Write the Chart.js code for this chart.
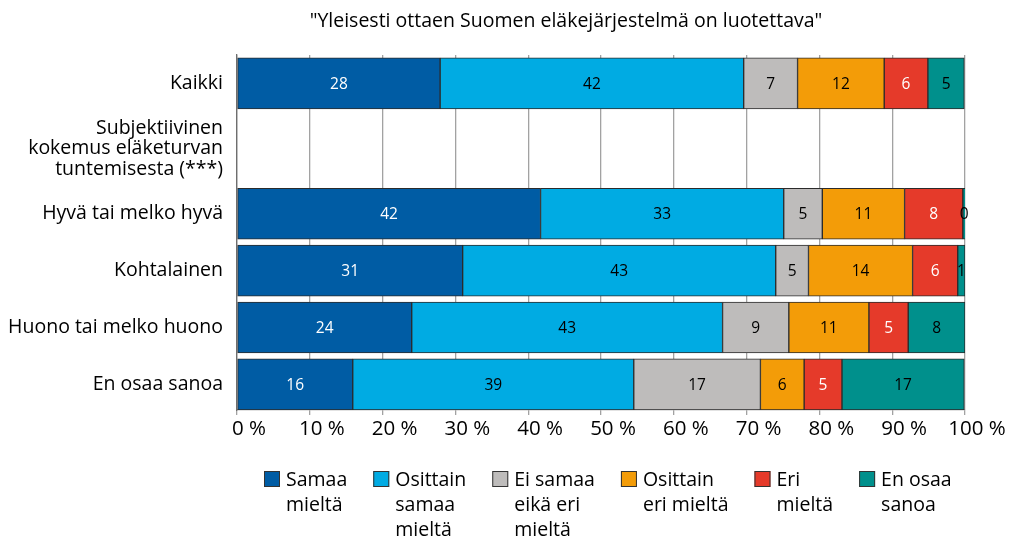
<!DOCTYPE html>
<html>
<head>
<meta charset="utf-8">
<script src="https://cdn.jsdelivr.net/npm/chart.js@4.4.1/dist/chart.umd.min.js"></script>
<style>
  html, body { margin: 0; padding: 0; background: #fff; }
  #wrap { width: 1012px; height: 537px; }
</style>
</head>
<body>
<div id="wrap"><canvas id="chart" width="1012" height="537"></canvas></div>
<script>
// rows of the chart (the second one is only a heading, it has no bar)
const rowLabels = [
    'Kaikki',
    ['Subjektiivinen', 'kokemus eläketurvan', 'tuntemisesta (***)'],
    'Hyvä tai melko hyvä',
    'Kohtalainen',
    'Huono tai melko huono',
    'En osaa sanoa'
];
const seriesNames = [
    ['Samaa', 'mieltä'],
    ['Osittain', 'samaa', 'mieltä'],
    ['Ei samaa', 'eikä eri', 'mieltä'],
    ['Osittain', 'eri mieltä'],
    ['Eri', 'mieltä'],
    ['En osaa', 'sanoa']
];
// shares in %, null = heading row
const samaa          = [27.9, null, 41.7, 31.0, 24.0, 15.9];
const osittainSamaa  = [41.7, null, 33.4, 43.0, 42.7, 38.6];
const eiSamaaEikaEri = [7.4,  null, 5.3,  4.5,  9.1,  17.4];
const osittainEri    = [11.9, null, 11.3, 14.3, 11.0, 6.0];
const eri            = [6.0,  null, 8.0,  6.2,  5.4,  5.2];
const enOsaa         = [5.0,  null, 0.4,  1.0,  7.8,  16.8];

const title = '"Yleisesti ottaen Suomen eläkejärjestelmä on luotettava"';
const FONT = '"Open Sans", "Noto Sans", sans-serif';

// vertical placement of the rows on the index axis (heading row takes more room)
const rowPos = [0, 1.15, 2.29, 3.29, 4.29, 5.29];

const seriesValues = [samaa, osittainSamaa, eiSamaaEikaEri, osittainEri, eri, enOsaa];
const colors = ['#005ca4', '#00abe3', '#bebcbb', '#f39c08', '#e53a2a', '#00908c'];
const textColors = ['#fff', '#000', '#000', '#000', '#fff', '#000'];

const datasets = seriesValues.map((vals, s) => ({
    label: seriesNames[s].join(' '),
    data: vals.map((v, i) => ({ x: v, y: rowPos[i] })).filter(p => p.x !== null),
    backgroundColor: colors[s],
    borderColor: '#2b2b2b',
    borderWidth: 1,
    borderSkipped: false,
    barThickness: 51,
    labelColor: textColors[s]
}));

// numbers inside the bars
const valueLabels = {
    id: 'valueLabels',
    afterDatasetsDraw(chart) {
        const ctx = chart.ctx;
        ctx.save();
        ctx.font = '15.5px ' + FONT;
        ctx.textAlign = 'center';
        ctx.textBaseline = 'middle';
        chart.data.datasets.forEach((ds, di) => {
            chart.getDatasetMeta(di).data.forEach((bar, i) => {
                const p = bar.getCenterPoint();
                ctx.fillStyle = ds.labelColor;
                ctx.fillText(Math.round(ds.data[i].x), p.x, p.y + 1);
            });
        });
        ctx.restore();
    }
};

// title + legend with wrapped names
const extras = {
    id: 'extras',
    afterDraw(chart) {
        const ctx = chart.ctx;
        ctx.save();
        ctx.fillStyle = '#000';
        ctx.font = '19.5px ' + FONT;
        ctx.textAlign = 'center';
        ctx.textBaseline = 'middle';
        ctx.fillText(title, 566, 21);

        ctx.textAlign = 'left';
        ctx.textBaseline = 'alphabetic';
        let x = 264;
        chart.data.datasets.forEach((ds, s) => {
            ctx.fillStyle = ds.backgroundColor;
            ctx.fillRect(x, 471, 16, 16);
            ctx.strokeStyle = '#333';
            ctx.lineWidth = 1;
            ctx.strokeRect(x + 0.5, 471.5, 15, 15);
            ctx.fillStyle = '#000';
            let w = 0;
            seriesNames[s].forEach((line, k) => {
                ctx.fillText(line, x + 22, 486 + k * 25);
                w = Math.max(w, ctx.measureText(line).width);
            });
            x += 22 + w + 26;
        });
        ctx.restore();
    }
};

new Chart(document.getElementById('chart'), {
    type: 'bar',
    data: { datasets },
    plugins: [valueLabels, extras],
    options: {
        indexAxis: 'y',
        responsive: false,
        animation: false,
        devicePixelRatio: 1,
        layout: { padding: { top: 55, right: 47, bottom: 96, left: 0 } },
        plugins: {
            legend: { display: false },
            tooltip: { enabled: false }
        },
        scales: {
            x: {
                stacked: true,
                min: 0,
                max: 100,
                afterFit: (scale) => { scale.height = 31; },
                ticks: {
                    stepSize: 10,
                    color: '#000',
                    font: { family: FONT, size: 20.5 },
                    padding: 2,
                    labelOffset: 12,
                    maxRotation: 0,
                    callback: (v) => v + ' %'
                },
                grid: { color: '#a2a2a2', lineWidth: 1.3, tickLength: 5 },
                border: { color: '#8c8c8c', width: 1.3 }
            },
            y: {
                type: 'linear',
                stacked: true,
                reverse: true,
                offset: false,
                min: -0.5,
                max: 5.74,
                afterFit: (scale) => { scale.width = 237; },
                afterBuildTicks: (scale) => { scale.ticks = rowPos.map(v => ({ value: v })); },
                ticks: {
                    autoSkip: false,
                    color: '#000',
                    font: { family: FONT, size: 19.5, lineHeight: 1.05 },
                    padding: 6,
                    callback: (v, i) => rowLabels[i]
                },
                grid: { display: false },
                border: { color: '#6e6e6e', width: 1.3 }
            }
        }
    }
});
</script>
</body>
</html>
